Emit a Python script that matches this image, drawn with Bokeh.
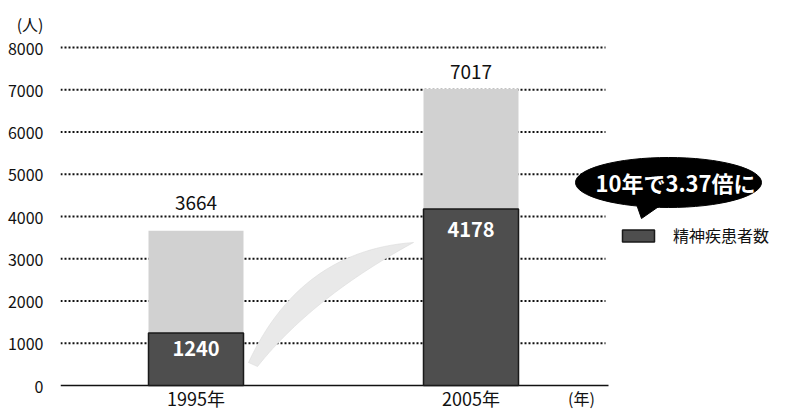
from bokeh.plotting import figure
from bokeh.models import (Range1d, FixedTicker, Legend, LegendItem, Label,
                          ColumnDataSource)
from bokeh.embed import file_html
from bokeh.resources import INLINE
from bokeh.core.properties import value

# ---------------- data ----------------
years = ["1995年", "2005年"]
patients = [1240, 4178]          # 精神疾患者数 (dark part)
totals = [3664, 7017]            # bar totals
y_ticks = [0, 1000, 2000, 3000, 4000, 5000, 6000, 7000, 8000]
legend_label = "精神疾患者数"
callout_text = "10年で3.37倍に"
y_unit = "(人)"
x_unit = "(年)"

# ---------------- style / geometry ----------------
FONT = "Noto Sans CJK JP"
W, H = 791, 410
FRAME_LEFT = 60
PPX = 275.0               # pixels per x unit
X0_PIC = 58.0             # picture x of data x = 0
PPY = 338.0 / 8000        # pixels per y unit
Y0_PIC = 385.0            # picture y of data y = 0
DARK = "#4e4e4e"
LIGHT = "#d1d1d1"
TXT = "#111111"

def pic2d(px, py):
    return ((px - X0_PIC) / PPX, (Y0_PIC - py) / PPY)

x_start = pic2d(FRAME_LEFT, 0)[0]
x_end = pic2d(W, 0)[0]
y_top = pic2d(0, 0)[1]
y_bot = pic2d(0, H)[1]
BAR_W = 95 / PPX

xs = [i + 0.5 for i in range(len(years))]

p = figure(width=W, height=H, output_backend="svg", toolbar_location=None,
           x_range=Range1d(x_start, x_end), y_range=Range1d(y_bot, y_top),
           x_axis_location=None,
           min_border_left=FRAME_LEFT, min_border_right=0,
           min_border_top=0, min_border_bottom=0)
p.outline_line_color = None
p.xgrid.visible = False
p.ygrid.visible = False

# y axis (the unit "(人)" is shown as an extra label at the top of the axis)
unit_pos = round(pic2d(0, 23)[1])
p.yaxis.ticker = FixedTicker(ticks=y_ticks + [unit_pos])
p.yaxis.major_label_overrides = {unit_pos: y_unit}
p.yaxis.axis_line_color = None
p.yaxis.major_tick_line_color = None
p.yaxis.major_tick_out = 0
p.yaxis.major_tick_in = 0
p.yaxis.minor_tick_line_color = None
p.yaxis.major_label_standoff = 17
p.yaxis.major_label_text_font = FONT
p.yaxis.major_label_text_font_size = "16px"
p.yaxis.major_label_text_color = TXT

# dotted gridlines
grid_end = pic2d(605, 0)[0]
grid_vals = [t for t in y_ticks if t > 0]
p.segment(x0=[x_start] * len(grid_vals), x1=[grid_end] * len(grid_vals),
          y0=grid_vals, y1=grid_vals, line_color=TXT,
          line_width=2, line_dash="2 2")
# base line at 0
p.segment(x0=[x_start], x1=[pic2d(608, 0)[0]], y0=[0], y1=[0],
          line_color=TXT, line_width=1.5)

# bars
src = ColumnDataSource(dict(
    x=xs, dark=patients, total=totals,
    dark_txt=[str(v) for v in patients],
    total_txt=[str(v) for v in totals],
    off_top=[-28, -17],
    off_in=[15, 21],
))
light_r = p.vbar(x="x", width=BAR_W, bottom="dark", top="total", source=src,
                 fill_color=LIGHT, line_color=None)
dark_r = p.vbar(x="x", width=BAR_W, bottom=0, top="dark", source=src,
                fill_color=DARK, line_color="#1a1a1a", line_width=1.5)

# value labels
p.text(x="x", y="total", text="total_txt", source=src, y_offset="off_top",
       text_align="center", text_baseline="middle",
       text_font=value(FONT), text_font_size="19px", text_color=TXT)
p.text(x="x", y="dark", text="dark_txt", source=src, y_offset="off_in",
       text_align="center", text_baseline="middle",
       text_font=value(FONT), text_font_size="20px", text_font_style="bold",
       text_color="white")

# x category labels (drawn as text under the base line)
lab_y = pic2d(0, 397)[1]
p.text(x=xs, y=[lab_y] * len(xs), text=years, text_align="center",
       text_baseline="middle", text_font=value(FONT), text_font_size="18px",
       text_color=TXT)

# curved arrow (decoration) between bars
def qbez(p0, c, p2, n=30):
    pts = []
    for i in range(n + 1):
        t = i / n
        a, b, d = (1 - t) ** 2, 2 * (1 - t) * t, t ** 2
        pts.append((a * p0[0] + b * c[0] + d * p2[0], a * p0[1] + b * c[1] + d * p2[1]))
    return pts

tip = pic2d(413, 242)
upper = qbez(pic2d(248, 362), pic2d(300, 250), tip)
lower = qbez(pic2d(257, 366), pic2d(312, 297), tip)
arrow_pts = upper + lower[::-1]
p.patch([q[0] for q in arrow_pts], [q[1] for q in arrow_pts],
        fill_color="#e9e9e9", line_color="#dcdcdc", line_width=0.6)

# callout bubble
cx, cy = pic2d(668, 182)
tail = [pic2d(634, 198), pic2d(664, 202), pic2d(641, 218)]
p.patch([q[0] for q in tail], [q[1] for q in tail], fill_color="black", line_color="black")
p.ellipse(x=[cx], y=[cy], width=186, height=50, width_units="screen",
          height_units="screen", fill_color="black", line_color="black")
tx, ty = pic2d(675, 181)
p.text(x=[tx], y=[ty], text=[callout_text], text_align="center",
       text_baseline="middle", text_font=value(FONT), text_font_size="22px",
       text_font_style="bold", text_color="white")

# legend
legend = Legend(items=[LegendItem(label=legend_label, renderers=[dark_r])],
                location=(558, 163), orientation="vertical",
                glyph_width=40, glyph_height=15, label_standoff=15,
                padding=0, margin=0, border_line_color=None,
                background_fill_alpha=0, label_text_font=FONT,
                label_text_font_size="16px", label_text_color=TXT)
p.add_layout(legend)

# unit label for the x direction
nx, ny = pic2d(581, 397)
p.add_layout(Label(x=nx, y=ny, text=x_unit, text_align="center",
                   text_baseline="middle", text_font=FONT,
                   text_font_size="16px", text_color=TXT))

open("out.html", "w").write(file_html(p, INLINE))
